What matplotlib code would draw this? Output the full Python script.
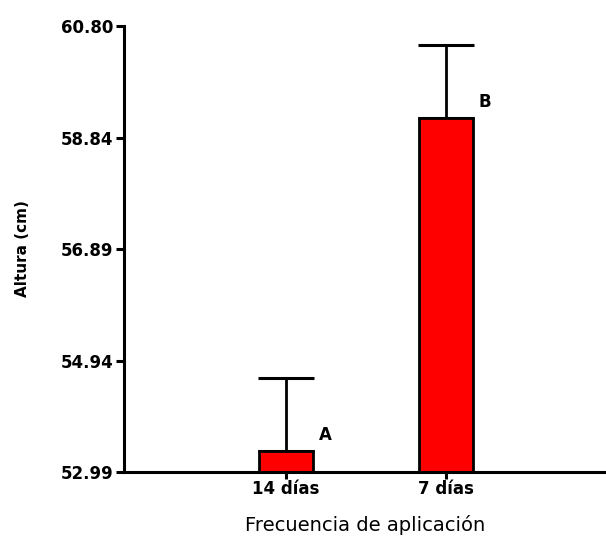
import matplotlib
matplotlib.use("Agg")
import matplotlib.pyplot as plt

# datos
categorias = ["14 días", "7 días"]
medias = [53.35, 59.18]
errores = [1.28, 1.29]
letras = ["A", "B"]
yticks = [52.99, 54.94, 56.89, 58.84, 60.80]
ytick_labels = ["52.99", "54.94", "56.89", "58.84", "60.80"]

fig = plt.figure(figsize=(6.06, 5.38), dpi=100)
ax = fig.add_axes([0.2054, 0.1227, 0.7946, 0.829])

pos = list(range(len(categorias)))
ax.bar(pos, [m - yticks[0] for m in medias], bottom=yticks[0], width=0.34,
       color="#ff0000", edgecolor="black", linewidth=2, zorder=2)
ax.errorbar(pos, medias, yerr=[[0] * len(errores), errores], fmt="none",
            ecolor="black", elinewidth=2, capsize=20, capthick=2.2, zorder=1)

for i in pos:
    ax.text(i + 0.245, medias[i] + 0.13, letras[i], fontsize=12, fontweight="bold",
            ha="center", va="bottom")

ax.set_xlim(-1.01, 2.0)
ax.set_ylim(yticks[0], yticks[-1])
ax.set_yticks(yticks)
ax.set_yticklabels(ytick_labels, fontsize=12, fontweight="bold")
ax.set_xticks(pos)
ax.set_xticklabels(categorias, fontsize=12, fontweight="bold")

for s in ["top", "right"]:
    ax.spines[s].set_visible(False)
for s in ["left", "bottom"]:
    ax.spines[s].set_linewidth(2.2)
ax.tick_params(axis="y", width=2.2, length=6, pad=2)
ax.tick_params(axis="x", width=2.2, length=5, pad=1)

ax.set_ylabel("Altura (cm)", fontsize=11, fontweight="bold", labelpad=22)
ax.set_xlabel("Frecuencia de aplicación", fontsize=14, labelpad=12)

fig.savefig("out.png", dpi=100)
